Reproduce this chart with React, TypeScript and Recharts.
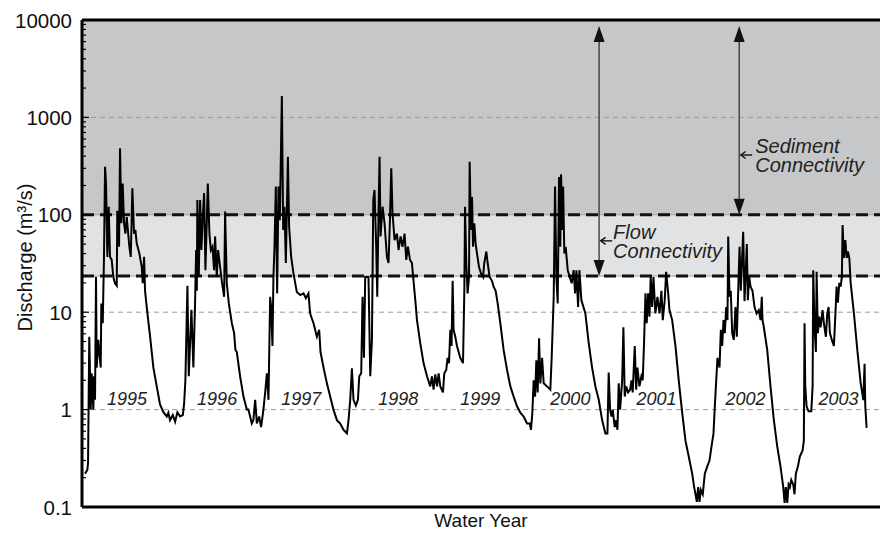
import React from 'react';
import { LineChart, Line, XAxis, YAxis, ReferenceArea, ReferenceLine, ReferenceDot } from 'recharts';

// Daily discharge (m³/s) by water year, as [decimal year, discharge]
const wy1995: [number, number][] = [
  [1994.784, 0.22], [1994.81, 0.24], [1994.818, 0.28], [1994.832, 5.6], [1994.848, 1.0], [1994.859, 2.36],
  [1994.878, 1.0], [1994.885, 2.2], [1994.897, 1.26], [1994.908, 23], [1994.916, 2.7], [1994.934, 5.2],
  [1994.945, 3.9], [1994.961, 2.7], [1994.968, 12.3], [1994.984, 7.7], [1994.998, 37], [1995.01, 312],
  [1995.021, 210], [1995.036, 37], [1995.051, 121], [1995.066, 37], [1995.085, 34.5], [1995.103, 23],
  [1995.122, 19.8], [1995.142, 18.7], [1995.148, 110], [1995.168, 47], [1995.179, 482], [1995.194, 82],
  [1995.209, 210], [1995.224, 82], [1995.239, 64], [1995.255, 95], [1995.284, 47], [1995.3, 37],
  [1995.318, 187], [1995.337, 64], [1995.352, 70], [1995.367, 51], [1995.397, 40], [1995.424, 29],
  [1995.435, 19.8], [1995.45, 37], [1995.461, 16.6], [1995.48, 11.3], [1995.518, 5.6], [1995.555, 2.7],
  [1995.593, 1.73], [1995.63, 1.13], [1995.668, 0.94], [1995.706, 0.85], [1995.724, 0.93], [1995.743, 0.78],
];
const wy1996: [number, number][] = [
  [1995.774, 0.88], [1995.8, 0.75], [1995.826, 0.94], [1995.856, 0.85], [1995.887, 0.88], [1995.901, 1.13],
  [1995.916, 2.0], [1995.939, 18.7], [1995.954, 2.2], [1995.969, 4.8], [1995.984, 10.6], [1996.006, 2.7],
  [1996.025, 12.3], [1996.037, 43.5], [1996.045, 16.6], [1996.051, 142], [1996.067, 23], [1996.082, 142],
  [1996.097, 43.5], [1996.112, 95], [1996.127, 167], [1996.142, 27], [1996.157, 82], [1996.169, 210],
  [1996.187, 64], [1996.203, 43.5], [1996.221, 47], [1996.24, 27], [1996.251, 60], [1996.27, 23],
  [1996.285, 43.5], [1996.308, 29], [1996.33, 19.8], [1996.353, 14.4], [1996.364, 108], [1996.383, 19.8],
  [1996.406, 12.3], [1996.44, 7.7], [1996.466, 6.1], [1996.48, 4.1], [1996.496, 3.9], [1996.533, 2.2],
  [1996.571, 1.36], [1996.609, 1.0], [1996.627, 1.0], [1996.665, 0.72], [1996.683, 0.78], [1996.703, 1.26],
  [1996.722, 0.72], [1996.748, 0.85],
];
const wy1997: [number, number][] = [
  [1996.77, 0.66], [1996.796, 1.0], [1996.816, 1.5], [1996.835, 2.36], [1996.853, 1.26], [1996.872, 14.4],
  [1996.883, 11.3], [1996.898, 4.5], [1996.909, 23], [1996.921, 47], [1996.936, 195], [1996.951, 15.6],
  [1996.966, 195], [1996.981, 88], [1997.004, 1660], [1997.019, 70], [1997.033, 121], [1997.049, 32],
  [1997.072, 395], [1997.086, 75], [1997.109, 37], [1997.135, 25], [1997.173, 16.1], [1997.211, 15],
  [1997.248, 15.6], [1997.275, 13.9], [1997.304, 15.6], [1997.323, 9.7], [1997.361, 7.7], [1997.399, 5.6],
  [1997.425, 6.6], [1997.44, 3.9], [1997.474, 2.7], [1997.512, 1.86], [1997.549, 1.36], [1997.586, 1.0],
  [1997.625, 0.78], [1997.662, 0.72], [1997.699, 0.62], [1997.738, 0.57],
];
const wy1998: [number, number][] = [
  [1997.756, 0.78], [1997.775, 1.26], [1997.794, 2.65], [1997.812, 1.26], [1997.839, 1.1], [1997.862, 1.26],
  [1997.877, 2.2], [1997.899, 2.36], [1997.914, 14.4], [1997.93, 3.4], [1997.944, 23], [1997.981, 23],
  [1998.001, 2.2], [1998.02, 5.2], [1998.035, 142], [1998.049, 180], [1998.068, 47], [1998.08, 14.4],
  [1998.094, 104], [1998.106, 395], [1998.117, 60], [1998.14, 121], [1998.162, 82], [1998.189, 37],
  [1998.207, 32], [1998.223, 88], [1998.238, 300], [1998.252, 104], [1998.275, 55], [1998.302, 64],
  [1998.32, 43.5], [1998.343, 60], [1998.365, 47], [1998.388, 64], [1998.407, 34.5], [1998.426, 47],
  [1998.449, 34.5], [1998.471, 32], [1998.489, 21], [1998.509, 13.3], [1998.528, 8.3], [1998.565, 4.8],
  [1998.602, 3.0], [1998.641, 2.2], [1998.678, 1.73], [1998.697, 2.2], [1998.715, 1.6], [1998.734, 2.3],
];
const wy1999: [number, number][] = [
  [1998.754, 1.73], [1998.772, 2.36], [1998.791, 1.73], [1998.821, 1.5], [1998.836, 2.36], [1998.858, 2.55],
  [1998.873, 3.4], [1998.889, 3.0], [1998.904, 6.6], [1998.918, 4.5], [1998.93, 21], [1998.941, 6.6],
  [1998.96, 5.6], [1998.979, 4.5], [1999.016, 3.4], [1999.047, 3.0], [1999.062, 16.6], [1999.07, 121],
  [1999.084, 32], [1999.099, 15.6], [1999.115, 23], [1999.122, 350], [1999.137, 70], [1999.149, 152],
  [1999.16, 47], [1999.175, 82], [1999.189, 51], [1999.205, 40], [1999.228, 29], [1999.25, 25],
  [1999.273, 23], [1999.287, 32], [1999.31, 42], [1999.325, 32], [1999.347, 23], [1999.374, 21],
  [1999.392, 18.3], [1999.415, 16.6], [1999.438, 12.3], [1999.468, 7.7], [1999.505, 4.1], [1999.544, 2.55],
  [1999.581, 1.73], [1999.618, 1.36], [1999.656, 1.08], [1999.694, 0.93], [1999.731, 0.85],
];
const wy2000: [number, number][] = [
  [1999.769, 0.72], [1999.799, 0.72], [1999.814, 0.62], [1999.829, 0.93], [1999.844, 2.0], [1999.86, 1.36],
  [1999.874, 3.2], [1999.889, 1.5], [1999.905, 5.4], [1999.919, 1.86], [1999.939, 3.4], [1999.957, 1.86],
  [1999.995, 1.73], [2000.032, 1.6], [2000.047, 3.4], [2000.07, 14.4], [2000.085, 195], [2000.1, 23],
  [2000.115, 12.3], [2000.13, 245], [2000.145, 47], [2000.153, 260], [2000.168, 70], [2000.176, 195],
  [2000.19, 40], [2000.205, 47], [2000.228, 27], [2000.25, 23], [2000.273, 19.8], [2000.295, 27],
  [2000.311, 15.6], [2000.326, 27], [2000.345, 11.3], [2000.36, 27], [2000.382, 13.3], [2000.427, 9.7],
  [2000.465, 4.8], [2000.503, 2.7], [2000.54, 1.73], [2000.578, 1.26], [2000.616, 0.78], [2000.653, 0.57],
  [2000.676, 0.57], [2000.69, 2.4], [2000.706, 1.0], [2000.721, 0.85], [2000.736, 1.0],
];
const wy2001: [number, number][] = [
  [2000.758, 0.66], [2000.774, 0.78], [2000.789, 0.62], [2000.803, 1.86], [2000.819, 1.0], [2000.842, 2.0],
  [2000.856, 7.0], [2000.871, 1.36], [2000.887, 1.73], [2000.909, 1.5], [2000.932, 1.6], [2000.947, 2.0],
  [2000.961, 1.5], [2000.984, 4.5], [2001.0, 1.6], [2001.014, 2.7], [2001.037, 1.73], [2001.059, 2.2],
  [2001.074, 2.0], [2001.09, 5.2], [2001.105, 15.6], [2001.119, 7.7], [2001.135, 15.6], [2001.15, 9.0],
  [2001.164, 23], [2001.18, 11.3], [2001.195, 23], [2001.217, 9.7], [2001.24, 14.4], [2001.263, 9.7],
  [2001.285, 16.6], [2001.3, 8.3], [2001.322, 13.3], [2001.338, 26], [2001.361, 15.6], [2001.375, 10.6],
  [2001.406, 8.3], [2001.443, 4.5], [2001.48, 2.0], [2001.519, 0.93], [2001.556, 0.48], [2001.593, 0.33],
  [2001.632, 0.22], [2001.654, 0.16], [2001.669, 0.135], [2001.684, 0.113], [2001.699, 0.16], [2001.714, 0.113],
  [2001.729, 0.15],
];
const wy2002: [number, number][] = [
  [2001.751, 0.135], [2001.774, 0.22], [2001.801, 0.26], [2001.827, 0.3], [2001.85, 0.42], [2001.872, 0.57],
  [2001.887, 1.08], [2001.903, 2.0], [2001.917, 3.4], [2001.94, 2.7], [2001.955, 6.6], [2001.97, 4.5],
  [2001.985, 8.3], [2002.0, 6.1], [2002.015, 11.3], [2002.03, 8.3], [2002.038, 60], [2002.053, 14.4],
  [2002.067, 16.6], [2002.083, 6.1], [2002.101, 5.2], [2002.12, 11.3], [2002.135, 5.6], [2002.151, 16.6],
  [2002.166, 47], [2002.18, 16.6], [2002.207, 67], [2002.222, 13], [2002.248, 50], [2002.259, 13.3],
  [2002.275, 23], [2002.29, 18.3], [2002.312, 16.6], [2002.335, 11.3], [2002.358, 9.7], [2002.383, 10.5],
  [2002.403, 8.3], [2002.417, 14.4], [2002.425, 8.3], [2002.44, 7.0], [2002.478, 4.1], [2002.515, 1.73],
  [2002.553, 0.78], [2002.591, 0.42], [2002.628, 0.26], [2002.659, 0.16], [2002.674, 0.11], [2002.688, 0.16],
  [2002.704, 0.11], [2002.719, 0.17], [2002.733, 0.16], [2002.749, 0.19],
];
const wy2003: [number, number][] = [
  [2002.772, 0.17], [2002.786, 0.135], [2002.801, 0.22], [2002.824, 0.26], [2002.846, 0.33], [2002.877, 0.38],
  [2002.891, 0.48], [2002.899, 7.7], [2002.907, 1.73], [2002.922, 1.08], [2002.944, 0.96], [2002.975, 0.96],
  [2002.99, 1.73], [2002.997, 27], [2003.012, 7.0], [2003.027, 3.9], [2003.035, 26], [2003.049, 6.1],
  [2003.065, 9.0], [2003.08, 7.0], [2003.102, 10.5], [2003.117, 7.7], [2003.14, 5.6], [2003.155, 9.7],
  [2003.17, 11.3], [2003.185, 6.1], [2003.207, 5.2], [2003.23, 4.5], [2003.246, 9.0], [2003.26, 18.3],
  [2003.275, 12.5], [2003.291, 20], [2003.306, 18.3], [2003.32, 23], [2003.328, 78.5], [2003.343, 36],
  [2003.359, 55], [2003.374, 36], [2003.388, 42], [2003.404, 36], [2003.419, 20], [2003.456, 9.7],
  [2003.494, 4.1], [2003.531, 1.9], [2003.562, 1.25], [2003.576, 2.95], [2003.584, 1.08], [2003.599, 0.65],
];

const yearLabels = ['1995', '1996', '1997', '1998', '1999', '2000', '2001', '2002', '2003'];
const yearLabelX = [1995.258, 1996.274, 1997.222, 1998.317, 1999.242, 2000.258, 2001.229, 2002.233, 2003.283];
const yearLabelY = 1.28;

const xDomain: [number, number] = [1994.75, 2003.75];
const yMajorTicks = [0.1, 1, 10, 100, 1000, 10000];
const yMinorMultipliers = [2, 3, 4, 5, 6, 7, 8, 9];
const yTicks = [
  ...yMajorTicks,
  ...yMajorTicks.slice(0, -1).flatMap((d) => yMinorMultipliers.map((m) => +(d * m).toPrecision(3))),
].sort((a, b) => a - b);

const flowThreshold = 23.5;
const sedimentThreshold = 100;
const gridValues = [1000, 10, 1];
const arrowTop = 8700;
const flowArrowX = 2000.582;
const sedimentArrowX = 2002.162;
const flowNoteY = 54;
const sedimentNoteY = 411;

const data = [wy1995, wy1996, wy1997, wy1998, wy1999, wy2000, wy2001, wy2002, wy2003]
  .flat()
  .map(([t, q]) => ({ t, q }));

const FONT = '"Liberation Sans", Arial, Helvetica, sans-serif';

const isMajor = (v: number) => Math.abs(Math.log10(v) - Math.round(Math.log10(v))) < 1e-6;

const YTick = (props: any) => {
  const { x, y, payload } = props;
  const v = payload.value as number;
  const major = isMajor(v);
  return (
    <g>
      <line x1={x} x2={x + (major ? 7 : 4)} y1={y} y2={y} stroke="#000" strokeWidth={1.2} />
      {major && (
        <text x={x - 10} y={y} textAnchor="end" dominantBaseline="central" fontSize={20.5} fontFamily={FONT} fill="#111">
          {v < 1 ? v.toFixed(1) : String(v)}
        </text>
      )}
    </g>
  );
};

const YTitle = (props: any) => {
  const vb = props.viewBox || { x: 0, y: 20, width: 82, height: 487 };
  const cx = vb.x + 32;
  const cy = vb.y + vb.height / 2 - 6;
  return (
    <text x={cx} y={cy} transform={`rotate(-90 ${cx} ${cy})`} textAnchor="middle" fontSize={20} fontFamily={FONT} fill="#111">
      Discharge (m³/s)
    </text>
  );
};

const DoubleArrow = (p: any) => {
  const { x1, y1, y2 } = p;
  const top = Math.min(y1, y2);
  const bot = Math.max(y1, y2);
  const x = x1;
  const hl = 16;
  const hw = 5.5;
  return (
    <g>
      <line x1={x} x2={x} y1={top + hl - 1} y2={bot - hl + 1} stroke="#333" strokeWidth={1.3} />
      <polygon points={`${x},${top} ${x - hw},${top + hl} ${x + hw},${top + hl}`} fill="#111" />
      <polygon points={`${x},${bot} ${x - hw},${bot - hl} ${x + hw},${bot - hl}`} fill="#111" />
    </g>
  );
};

const makeNote = (lines: string[], dx: number) => (p: any) => {
  const { cx, cy } = p;
  return (
    <g>
      <line x1={cx + 2} x2={cx + 13} y1={cy} y2={cy} stroke="#111" strokeWidth={1.4} />
      <polyline points={`${cx + 6.5},${cy - 3.5} ${cx + 1.5},${cy} ${cx + 6.5},${cy + 3.5}`} fill="none" stroke="#111" strokeWidth={1.4} />
      <text x={cx + dx} y={cy - 2} fontSize={20} fontStyle="italic" fontFamily={FONT} fill="#222">
        <tspan x={cx + dx} dy={0}>{lines[0]}</tspan>
        <tspan x={cx + dx} dy={19}>{lines[1]}</tspan>
      </text>
    </g>
  );
};

const makeYear = (label: string) => (p: any) => (
  <text x={p.cx} y={p.cy} textAnchor="middle" dominantBaseline="central" fontSize={18} fontStyle="italic" fontFamily={FONT} fill="#222">
    {label}
  </text>
);

export default function App() {
  return (
    <div style={{ position: 'absolute', left: 0, top: 0, width: 880, height: 533, overflow: 'hidden', background: '#fff' }}>
      <LineChart width={880} height={533} data={data} margin={{ top: 20, right: 0, bottom: 0, left: 0 }}>
        <XAxis
          dataKey="t"
          type="number"
          domain={xDomain}
          allowDataOverflow
          tick={false}
          tickLine={false}
          height={26}
          axisLine={{ stroke: '#000', strokeWidth: 3 }}
          label={{ value: 'Water Year', position: 'insideBottom', offset: 6, style: { fontSize: 19, fontFamily: FONT, fill: '#111' } }}
        />
        <YAxis
          type="number"
          scale="log"
          domain={[0.1, 10000]}
          allowDataOverflow
          ticks={yTicks}
          interval={0}
          width={82}
          tickSize={0}
          tickMargin={0}
          tickLine={false}
          tick={<YTick />}
          axisLine={{ stroke: '#000', strokeWidth: 3 }}
          label={{ content: <YTitle /> }}
        />
        <ReferenceArea y1={sedimentThreshold} y2={10000} fill="#c6c7c9" fillOpacity={1} stroke="none" />
        <ReferenceArea y1={flowThreshold} y2={sedimentThreshold} fill="#e1e2e4" fillOpacity={1} stroke="none" />
        {gridValues.map((g) => (
          <ReferenceLine key={g} y={g} stroke="#9a9a9a" strokeWidth={1} strokeDasharray="5 4" />
        ))}
        <ReferenceLine y={sedimentThreshold} stroke="#999" strokeWidth={1} />
        <ReferenceLine y={flowThreshold} stroke="#999" strokeWidth={1} />
        <ReferenceLine y={sedimentThreshold} stroke="#111" strokeWidth={3} strokeDasharray="12 6" />
        <ReferenceLine y={flowThreshold} stroke="#111" strokeWidth={3} strokeDasharray="12 6" />
        <ReferenceLine y={10000} stroke="#000" strokeWidth={3} />
        {yearLabels.map((lab, i) => (
          <ReferenceDot key={lab} x={yearLabelX[i]} y={yearLabelY} r={1} shape={makeYear(lab)} />
        ))}
        <Line
          type="linear"
          dataKey="q"
          stroke="#000"
          strokeWidth={2}
          dot={false}
          activeDot={false}
          isAnimationActive={false}
        />
        <ReferenceLine
          segment={[{ x: flowArrowX, y: arrowTop }, { x: flowArrowX, y: flowThreshold }]}
          shape={DoubleArrow}
        />
        <ReferenceLine
          segment={[{ x: sedimentArrowX, y: arrowTop }, { x: sedimentArrowX, y: sedimentThreshold }]}
          shape={DoubleArrow}
        />
        <ReferenceDot x={flowArrowX} y={flowNoteY} r={1} shape={makeNote(['Flow', 'Connectivity'], 14)} />
        <ReferenceDot x={sedimentArrowX} y={sedimentNoteY} r={1} shape={makeNote(['Sediment', 'Connectivity'], 16)} />
      </LineChart>
    </div>
  );
}
